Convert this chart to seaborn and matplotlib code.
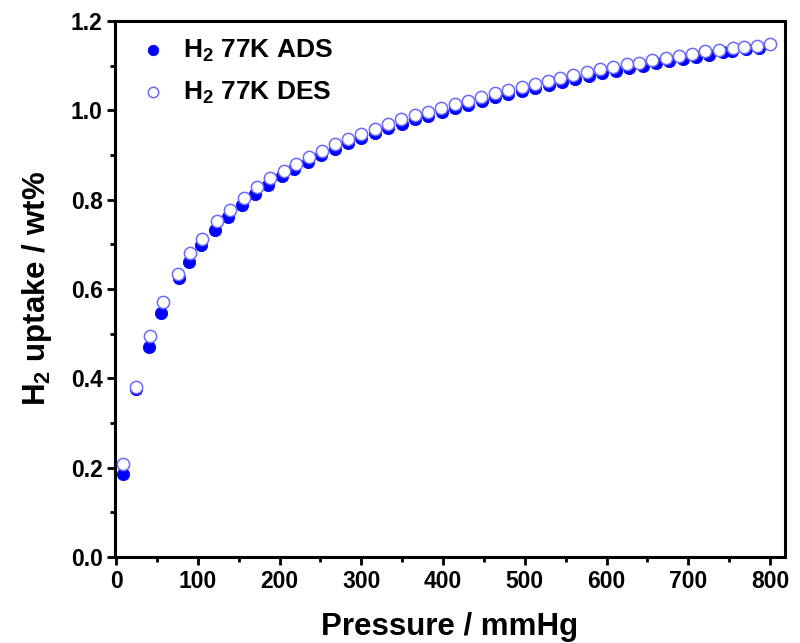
import matplotlib
matplotlib.use("Agg")
import matplotlib.pyplot as plt
from matplotlib.ticker import MultipleLocator
import seaborn as sns
import pandas as pd

# H2 adsorption isotherm at 77 K (pressure in mmHg, uptake in wt%)
ads_pressure = [8, 25, 40, 55, 77, 89, 104, 121, 137, 154, 170, 186, 203, 218,
                235, 251, 268, 284, 300, 317, 333, 350, 366, 382, 399, 415, 431,
                448, 464, 480, 497, 513, 529, 546, 562, 578, 595, 611, 627, 644,
                660, 676, 693, 709, 725, 742, 753, 770, 787]
ads_uptake = [0.185, 0.377, 0.471, 0.546, 0.624, 0.660, 0.698, 0.733, 0.762,
              0.788, 0.812, 0.834, 0.853, 0.869, 0.885, 0.900, 0.914, 0.927,
              0.938, 0.949, 0.960, 0.970, 0.980, 0.988, 0.997, 1.005, 1.013,
              1.021, 1.029, 1.037, 1.044, 1.051, 1.057, 1.064, 1.071, 1.077,
              1.083, 1.089, 1.094, 1.099, 1.105, 1.110, 1.115, 1.120, 1.125,
              1.130, 1.133, 1.137, 1.140]

# Desorption branch
des_pressure = [9, 25, 42, 58, 76, 91, 105, 124, 140, 157, 172, 188, 205, 220,
                236, 252, 268, 284, 300, 317, 333, 349, 366, 382, 398, 415, 431,
                447, 464, 480, 497, 513, 528, 543, 559, 576, 592, 608, 625, 640,
                656, 673, 689, 705, 721, 737, 755, 768, 784, 800]
des_uptake = [0.208, 0.381, 0.495, 0.570, 0.633, 0.680, 0.711, 0.752, 0.778,
              0.803, 0.828, 0.848, 0.865, 0.881, 0.896, 0.910, 0.924, 0.937,
              0.948, 0.959, 0.970, 0.980, 0.989, 0.997, 1.006, 1.015, 1.022,
              1.031, 1.038, 1.046, 1.053, 1.060, 1.066, 1.073, 1.080, 1.086,
              1.092, 1.097, 1.103, 1.107, 1.113, 1.118, 1.122, 1.127, 1.132,
              1.136, 1.139, 1.141, 1.143, 1.148]

x_ticks = [0, 100, 200, 300, 400, 500, 600, 700, 800]
y_ticks = [0.0, 0.2, 0.4, 0.6, 0.8, 1.0, 1.2]

ads = pd.DataFrame({"p": ads_pressure, "w": ads_uptake})
des = pd.DataFrame({"p": des_pressure, "w": des_uptake})

sns.set_style("ticks")
plt.rcParams["font.family"] = ["Liberation Sans", "DejaVu Sans"]
plt.rcParams["font.weight"] = "bold"
plt.rcParams["text.color"] = "black"
plt.rcParams["axes.labelcolor"] = "black"
plt.rcParams["xtick.color"] = "black"
plt.rcParams["ytick.color"] = "black"
plt.rcParams["mathtext.fontset"] = "custom"
plt.rcParams["mathtext.rm"] = "Liberation Sans:bold"
plt.rcParams["mathtext.it"] = "Liberation Sans:bold"
plt.rcParams["mathtext.bf"] = "Liberation Sans:bold"

fig = plt.figure(figsize=(8.0, 6.43), dpi=100)
ax = fig.add_axes([0.144, 0.1337, 0.837, 0.8336])

sns.scatterplot(data=ads, x="p", y="w", ax=ax, marker="o", s=78,
                color="#0000ff", edgecolor="#0000ff", linewidth=0.6,
                label=r"H$_{2}$ 77K ADS", zorder=3)
sns.scatterplot(data=des, x="p", y="w", ax=ax, marker="o", s=78,
                facecolor="white", edgecolor="#6a6aff", linewidth=1.1,
                label=r"H$_{2}$ 77K DES", zorder=4)

ax.set_xlim(-1, 818)
ax.set_ylim(0, 1.2)
ax.set_xticks(x_ticks)
ax.set_yticks(y_ticks)
ax.set_xticklabels([str(v) for v in x_ticks])
ax.set_yticklabels([f"{v:.1f}" for v in y_ticks])
ax.xaxis.set_minor_locator(MultipleLocator(50))
ax.yaxis.set_minor_locator(MultipleLocator(0.1))

for side in ["left", "right", "top", "bottom"]:
    ax.spines[side].set_visible(True)
    ax.spines[side].set_linewidth(2.2)
    ax.spines[side].set_color("black")

ax.tick_params(axis="both", which="major", direction="out", length=6,
               width=2.0, labelsize=16.5, pad=3, colors="black",
               top=False, right=False)
ax.tick_params(axis="both", which="minor", direction="out", length=3.5,
               width=2.0, top=False, right=False)
for lab in ax.get_xticklabels() + ax.get_yticklabels():
    lab.set_fontweight("bold")

ax.set_xlabel("Pressure / mmHg", fontsize=22.5, fontweight="bold",
              labelpad=14, color="black")
ax.set_ylabel(r"H$_{2}$ uptake / wt%", fontsize=22.5, fontweight="bold",
              labelpad=12, color="black")

leg = ax.legend(loc="upper left", frameon=False, fontsize=19,
                handletextpad=0.34, handlelength=1.6, borderaxespad=0.22,
                labelspacing=0.6, markerscale=0.85,
                bbox_to_anchor=(0.0, 1.0))
for t in leg.get_texts():
    t.set_fontweight("bold")
    t.set_color("black")

fig.savefig("out.png", dpi=100)
